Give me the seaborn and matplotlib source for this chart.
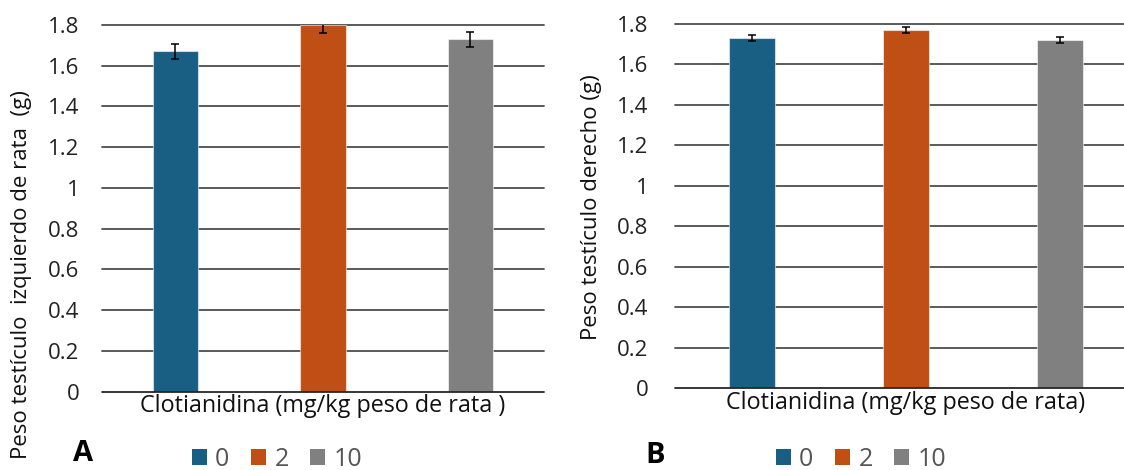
import matplotlib
matplotlib.use("Agg")
import matplotlib.pyplot as plt
from matplotlib.patches import Patch
import seaborn as sns
import pandas as pd

# Clothianidin doses (mg/kg body weight) and testis weights (g)
doses = ["0", "2", "10"]
left_mean = [1.67, 1.80, 1.73]
left_err = [0.038, 0.04, 0.038]
right_mean = [1.73, 1.77, 1.72]
right_err = [0.016, 0.016, 0.016]
colors = ["#195E83", "#C04F15", "#808080"]
y_ticks = [0, 0.2, 0.4, 0.6, 0.8, 1, 1.2, 1.4, 1.6, 1.8]
y_tick_labels = ["0", "0.2", "0.4", "0.6", "0.8", "1", "1.2", "1.4", "1.6", "1.8"]

sns.set_theme(style="white")
plt.rcParams["font.family"] = ["Open Sans", "DejaVu Sans"]

W, H = 1124, 470
fig = plt.figure(figsize=(W / 100, H / 100), dpi=100)


def px_axes(x0, x1, ytop, ybot):
    return fig.add_axes([x0 / W, 1 - ybot / H, (x1 - x0) / W, (ybot - ytop) / H])


def panel(ax, means, errs, xlabel, bar_w, pad):
    df = pd.DataFrame({"dose": doses, "peso": means})
    sns.barplot(data=df, x="dose", y="peso", hue="dose", palette=colors,
                order=doses, hue_order=doses, width=bar_w, dodge=False,
                saturation=1, edgecolor=(1, 1, 1, 0.55), linewidth=0.8,
                legend=False, errorbar=None, ax=ax, zorder=3)
    ax.errorbar(range(len(doses)), means, yerr=errs, fmt="none",
                ecolor="black", elinewidth=1.1, capsize=3, capthick=1.1,
                zorder=4)
    ax.set_ylim(0, 1.8)
    ax.set_xlim(-0.5, 2.5)
    ax.set_yticks(y_ticks)
    ax.set_yticklabels(y_tick_labels)
    ax.set_xticks([])
    ax.tick_params(axis="y", length=0, pad=pad, labelsize=16, labelcolor="#222222")
    for s in ax.spines.values():
        s.set_visible(False)
    for t in y_ticks[1:]:
        ax.axhline(t, color="#4d4d4d", lw=1.3, zorder=1, clip_on=False)
    ax.axhline(0, color="#262626", lw=1.3, zorder=5, clip_on=False)
    ax.set_xlabel(xlabel, fontsize=16.8, color="#111111", labelpad=2)
    ax.set_ylabel("")


axA = px_axes(101.7, 544.2, 25, 391.7)
panel(axA, left_mean, left_err, "Clotianidina (mg/kg peso de rata )", 0.31, 16)
fig.text(22 / W, 1 - 275 / H, "Peso testículo  izquierdo de rata  (g)",
         rotation=90, ha="center", va="center", fontsize=16, color="#111111")

axB = px_axes(675, 1137, 24, 388.3)
panel(axB, right_mean, right_err, "Clotianidina (mg/kg peso de rata)", 0.305, 19)
fig.text(592 / W, 1 - 207 / H, "Peso testículo derecho (g)",
         rotation=90, ha="center", va="center", fontsize=16, color="#111111")

# Panel letters
fig.text(73 / W, 1 - 461 / H, "A", fontsize=21, fontweight="bold",
         ha="left", va="baseline", color="black")
fig.text(645 / W, 1 - 463 / H, "B", fontsize=21, fontweight="bold",
         ha="left", va="baseline", color="black")

# Legends below each panel
handles = [Patch(facecolor=c, edgecolor="none", label=d) for c, d in zip(colors, doses)]
for cx in (277 / W, 861 / W):
    fig.legend(handles=handles, loc="center", bbox_to_anchor=(cx, 1 - 459 / H),
               ncol=3, frameon=False, fontsize=18, handlelength=0.6,
               handleheight=0.6, handletextpad=0.35, columnspacing=0.85,
               labelcolor="#555555", borderaxespad=0, borderpad=0)

fig.savefig("out.png", dpi=100)
